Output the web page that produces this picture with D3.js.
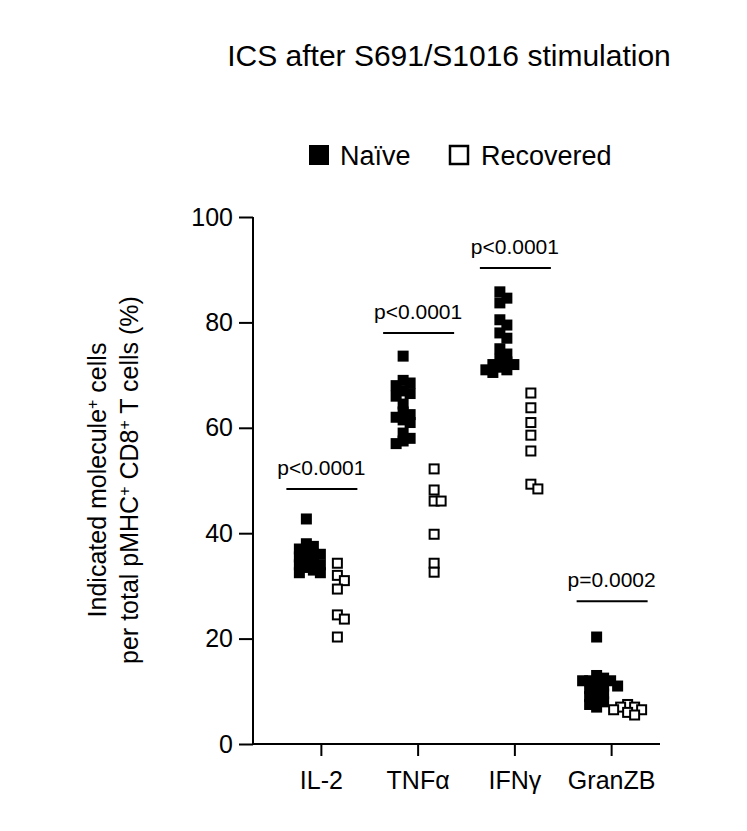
<!DOCTYPE html>
<html><head><meta charset="utf-8">
<script src="https://cdn.jsdelivr.net/npm/d3@7"></script>
<style>body{margin:0;background:#fff}svg{font-family:Arial,"Liberation Sans",sans-serif}</style>
</head><body><svg id="c" width="747" height="831"></svg>
<script>
const categories=["IL-2","TNFα","IFNγ","GranZB"];
const naive=[
 [42.7,38,37.5,37,36.5,36,35.5,35,34.5,34,33.5,33,32.5,32.5,36,34],
 [73.6,69,68.5,68,67,66.5,66,64.5,63,62.5,62,61.5,61,59,57.5,57,58],
 [85.8,84.6,83.7,80.5,79.5,78,77,75,74,73,72.5,72,71.5,71,71,70.5,72],
 [20.3,13,12.5,12,12,11.5,11,11,10.5,10,9.5,9,8.5,8,7.5,7,12]];
const recovered=[
 [34.3,32,31,29.4,24.5,23.7,20.3],
 [52.2,48.2,46.1,46.1,39.8,34.3,32.6],
 [66.6,63.8,61,58.6,55.6,48.4,49.3],
 [7.5,7,7,6.5,6.5,6,5.5]];
const pLabels=["p<0.0001","p<0.0001","p<0.0001","p=0.0002"];
const pHeights=[48.4,78,90.3,27.1];
const yTicks=[0,20,40,60,80,100];

const svg=d3.select("#c");
const y=d3.scaleLinear().domain([0,100]).range([744,217]);
const x=d3.scaleBand().domain(categories).range([273,660]).padding(0);
const cx=c=>x(c)+x.bandwidth()/2;
const S=11;
const F="Arial,'Liberation Sans',sans-serif";

svg.append("text").attr("x",449).attr("y",66).attr("text-anchor","middle").attr("font-size",30).text("ICS after S691/S1016 stimulation");

const ax=svg.append("g").attr("transform","translate(253,0)").call(d3.axisLeft(y).tickValues(yTicks).tickSize(14).tickPadding(6));
ax.selectAll("path,line").attr("stroke","#000").attr("stroke-width",2);
ax.select(".domain").attr("d","M0,744V217");
ax.selectAll("text").attr("font-size",25).attr("fill","#000").attr("font-family",F);
const bx=svg.append("g").attr("transform","translate(0,744)").call(d3.axisBottom(x).tickSize(12).tickPadding(10));
bx.select(".domain").attr("d","M253,0H660");
bx.selectAll("path,line").attr("stroke","#000").attr("stroke-width",2);
bx.selectAll("text").attr("font-size",25).attr("fill","#000").attr("font-family",F).attr("dy","0.9em");

const yl=svg.append("text").attr("transform","translate(106,480) rotate(-90)").attr("text-anchor","middle").attr("font-size",25);
yl.append("tspan").attr("x",0).attr("dy",0).text("Indicated molecule").append("tspan").attr("baseline-shift","super").attr("font-size",16).text("+");
yl.append("tspan").text(" cells");
yl.append("tspan").attr("x",0).attr("dy",32).text("per total pMHC");
yl.append("tspan").attr("baseline-shift","super").attr("font-size",16).text("+");
yl.append("tspan").text(" CD8");
yl.append("tspan").attr("baseline-shift","super").attr("font-size",16).text("+");
yl.append("tspan").text(" T cells (%)");

function swarm(vals){
  const placed=[];const out=[];
  vals.slice().sort((a,b)=>b-a).forEach(v=>{
    const py=y(v);let done=false;
    for(let k=0;k<7;k++){
      const dx=(k%2?1:-1)*Math.ceil(k/2)*7;
      if(placed.every(p=>Math.abs(p[0]-dx)>=S*0.6||Math.abs(p[1]-py)>=S*0.6)){placed.push([dx,py]);out.push([dx,py]);done=true;break;}
    }
    if(!done){const dx=((placed.length%3)-1)*6;placed.push([dx,py]);out.push([dx,py]);}
  });
  return out;
}
categories.forEach((c,i)=>{
  swarm(naive[i]).forEach(([dx,py])=>svg.append("rect").attr("x",cx(c)-15+dx-S/2).attr("y",py-S/2).attr("width",S).attr("height",S).attr("fill","#000"));
  swarm(recovered[i]).forEach(([dx,py])=>svg.append("rect").attr("x",cx(c)+16+dx-S/2+1).attr("y",py-S/2+1).attr("width",S-2).attr("height",S-2).attr("fill","#fff").attr("stroke","#000").attr("stroke-width",2));
  const hy=y(pHeights[i]);
  svg.append("line").attr("x1",cx(c)-35).attr("x2",cx(c)+36).attr("y1",hy).attr("y2",hy).attr("stroke","#000").attr("stroke-width",2);
  svg.append("text").attr("x",cx(c)).attr("y",hy-14).attr("text-anchor","middle").attr("font-size",21).text(pLabels[i]);
});

const lg=svg.append("g");
lg.append("rect").attr("x",309).attr("y",145).attr("width",20).attr("height",20).attr("fill","#000");
lg.append("text").attr("x",340).attr("y",165).attr("font-size",27).text("Naïve");
lg.append("rect").attr("x",450).attr("y",146).attr("width",18).attr("height",18).attr("fill","#fff").attr("stroke","#000").attr("stroke-width",2.5);
lg.append("text").attr("x",481).attr("y",165).attr("font-size",27).text("Recovered");
</script></body></html>
